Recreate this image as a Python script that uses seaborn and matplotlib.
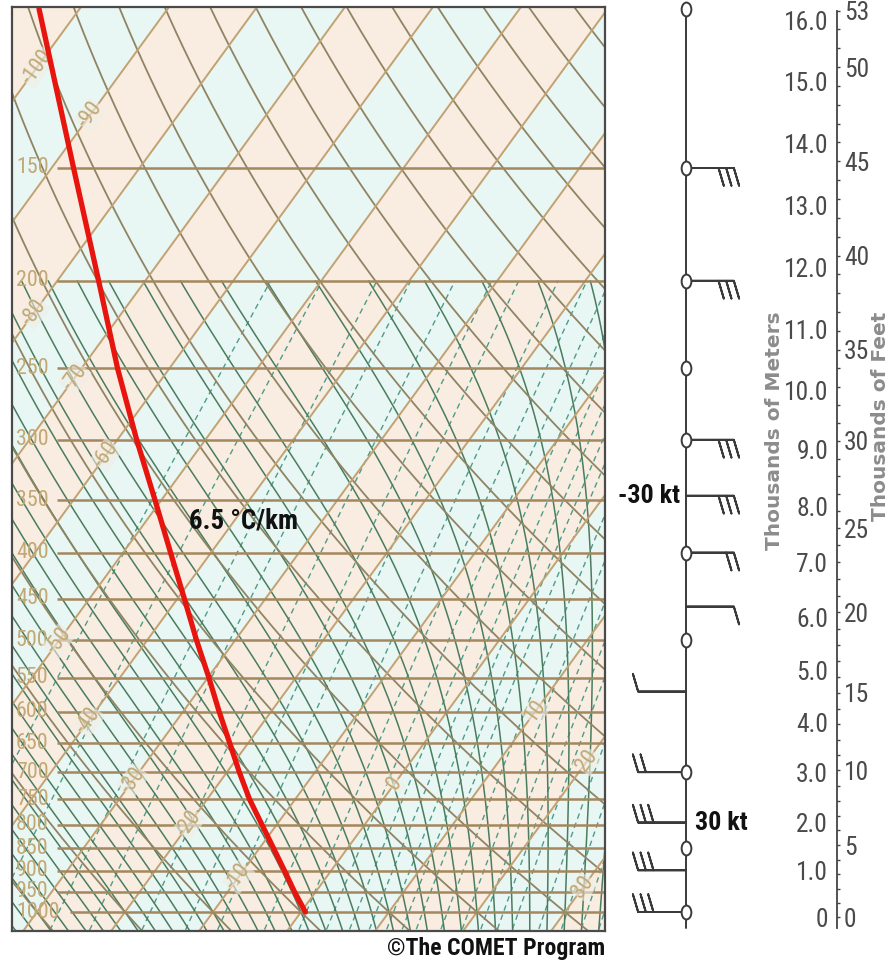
import numpy as np
import matplotlib
matplotlib.use("Agg")
import matplotlib.pyplot as plt
import seaborn as sns
from matplotlib import font_manager
from matplotlib.font_manager import FontProperties
from matplotlib.textpath import TextPath
from matplotlib.path import Path
from matplotlib.transforms import Affine2D
from matplotlib.ticker import FixedLocator, FixedFormatter, NullFormatter

# ---------------- data ----------------
isobar_levels = [150, 200, 250, 300, 350, 400, 450, 500, 550, 600, 650,
                 700, 750, 800, 850, 900, 950, 1000]
isotherm_label_temps = [-100, -90, -80, -70, -60, -50, -40, -30, -20, -10, 0, 10, 20, 30]
isotherm_label_levels = [116, 131, 217, 256, 312, 501, 614, 715, 798, 915, 721, 599, 680, 938]

profile_pressure = [100, 150, 200, 250, 300, 350, 400, 450, 500, 550, 600,
                    650, 700, 750, 800, 850, 900, 950, 1000]
profile_temperature = [-104.6, -87.5, -75.3, -65.9, -57.8, -50.7, -44.6, -39.2,
                       -34.4, -29.9, -25.9, -22.1, -18.6, -15.2, -11.7, -8.4,
                       -5.3, -2.4, 0.5]

wind_pressure = [150, 200, 300, 346, 400, 459, 570, 700, 796, 899, 1000]
wind_u_kt = [-30, -30, -30, -30, -20, -10, 10, 20, 30, 30, 30]
station_pressure = [100, 150, 200, 250, 300, 400, 500, 700, 850, 1000]

height_km = list(range(0, 17))
height_kft_labels = [0, 5, 10, 15, 20, 25, 30, 35, 40, 45, 50, 53]

isotherm_values = list(range(-110, 50, 10))
dry_theta_c = list(range(-40, 200, 10))
moist_theta_w = list(range(-40, 46, 2))
mixing_ratios = [0.1, 0.2, 0.4, 0.6, 1, 1.5, 2, 3, 4, 5, 6, 7, 8, 9, 10,
                 12, 14, 16, 18, 20, 24, 28, 32, 36]

# ---------------- diagram geometry ----------------
SKEW = 32.5                  # skew of the isotherms (deg C per ln-pressure unit)
X_LIM = (-32.84, 34.55)
P_BOTTOM, P_TOP = 1049.6, 99.5
W, H = 892, 967

sns.set_style("white")


def pick_font():
    entries = font_manager.fontManager.ttflist
    for name in ("Liberation Sans Narrow", "Roboto Condensed", "Open Sans Condensed",
                 "Noto Sans Condensed"):
        if any(f.name == name for f in entries):
            return name, "normal"
    for name in ("Noto Sans", "Roboto", "Open Sans", "Liberation Sans"):
        for f in entries:
            if f.name == name and str(f.stretch) in ("condensed", "semi-condensed",
                                                       "extra-condensed"):
                return name, str(f.stretch)
    return "Liberation Sans", "normal"


FAMILY, STRETCH = pick_font()
plt.rcParams["font.family"] = [FAMILY, "DejaVu Sans"]
plt.rcParams["font.stretch"] = STRETCH


def fit_size(text, width_px, weight="normal", cap=None):
    fp = FontProperties(family=FAMILY, stretch=STRETCH, weight=weight)
    w = TextPath((0, 0), text, size=10, prop=fp).get_extents().width / 10.0
    size = width_px * 0.72 / w
    return min(size, cap) if cap else size


FS_AXIS = fit_size("500", 36, cap=15.8)
FS_ISO = fit_size("-100", 42, cap=15.8)
FS_HEIGHT = fit_size("16.0", 41, cap=19)
FS_NOTE = fit_size("6.5 °C/km", 106, weight="bold", cap=21)
FS_KT = fit_size("-30 kt", 60, weight="bold", cap=21)
FS_COPY = fit_size("©The COMET Program", 216, weight="bold", cap=19)

PEACH, CYAN = "#F9ECE1", "#E8F6F4"
TAN_T = "#C2A272"
TAN_D = "#8F8463"
ISOBAR = "#A3875E"
MOIST = "#4A7C5E"
MIXR = "#4E9C88"
LABEL_TAN = "#C2A874"


def skew_x(t, p):
    return np.asarray(t, float) + SKEW * np.log(1000.0 / np.asarray(p, float))


def px_box(l, t, r, b):
    return [l / W, 1 - b / H, (r - l) / W, (b - t) / H]


def std_pressure(z_m):
    z = np.asarray(z_m, float)
    lower = 1013.25 * np.clip(1 - 2.25577e-5 * z, 1e-6, None) ** 5.25588
    upper = 226.32 * np.exp(-(z - 11000.0) / 6341.62)
    return np.where(z <= 11000, lower, upper)


def moist_adiabats(theta_w, p_top=200.0, p_bottom=1100.0, dp=5.0):
    t0 = np.asarray(theta_w, float) + 273.15

    def rate(t, p):
        tc = t - 273.15
        es = 6.112 * np.exp(17.67 * tc / (tc + 243.5))
        rs = 0.622 * es / (p - es)
        return (287.04 * t + 2.501e6 * rs) / (
            p * (1005.7 + 2.501e6 ** 2 * rs * 0.622 / (287.04 * t * t)))

    def integrate(p_end):
        n = int(abs(p_end - 1000.0) / dp)
        ps = np.linspace(1000.0, p_end, n + 1)
        h = ps[1] - ps[0]
        t = t0.copy()
        out = [t.copy()]
        for p in ps[:-1]:
            k1 = rate(t, p)
            k2 = rate(t + h * k1 / 2, p + h / 2)
            k3 = rate(t + h * k2 / 2, p + h / 2)
            k4 = rate(t + h * k3, p + h)
            t = t + h * (k1 + 2 * k2 + 2 * k3 + k4) / 6
            out.append(t.copy())
        return ps, np.array(out)

    pu, tu = integrate(p_top)
    pd, td = integrate(p_bottom)
    p = np.concatenate([pd[::-1], pu[1:]])
    t = np.concatenate([td[::-1], tu[1:]])
    return p, t - 273.15


fig = plt.figure(figsize=(W / 100, H / 100), dpi=100)
fig.patch.set_facecolor("white")

# ---------------- skew-T panel ----------------
ax = fig.add_axes(px_box(12, 7, 605, 931))
ax.set_yscale("log")
ax.set_xlim(*X_LIM)
ax.set_ylim(P_BOTTOM, P_TOP)
ax.set_xticks([])
ax.set_yticks([])
ax.yaxis.set_minor_locator(FixedLocator([]))
for s in ax.spines.values():
    s.set_color("#4a4a4a")
    s.set_linewidth(1.6)
    s.set_zorder(10)

pb, pt = 1120.0, 90.0
# alternating 10-degree isotherm bands
for t0 in range(-140, 60, 10):
    col = PEACH if (t0 // 10) % 2 else CYAN
    xs = [skew_x(t0, pb), skew_x(t0 + 10, pb), skew_x(t0 + 10, pt), skew_x(t0, pt)]
    ax.fill(xs, [pb, pb, pt, pt], color=col, lw=0, zorder=0)

# mixing ratio lines
p_mr = np.geomspace(1120, 200, 80)
for w in mixing_ratios:
    e = p_mr * w / (622.0 + w)
    a = np.log(e / 6.112)
    td = 243.5 * a / (17.67 - a)
    ax.plot(skew_x(td, p_mr), p_mr, color=MIXR, lw=1.0, ls=(0, (4, 3)), zorder=1)

# moist adiabats
p_ma, t_ma = moist_adiabats(moist_theta_w)
for j in range(t_ma.shape[1]):
    ax.plot(skew_x(t_ma[:, j], p_ma), p_ma, color=MOIST, lw=1.1, zorder=1.5)

# dry adiabats
p_da = np.geomspace(1120, 90, 200)
for th in dry_theta_c:
    t = (th + 273.15) * (p_da / 1000.0) ** 0.2857 - 273.15
    ax.plot(skew_x(t, p_da), p_da, color=TAN_D, lw=1.3, zorder=2)

# isotherms
for tv in isotherm_values:
    ax.plot([skew_x(tv, pb), skew_x(tv, pt)], [pb, pt], color=TAN_T, lw=1.4, zorder=2)

# isobars with their labels at the left edge
for p in isobar_levels:
    start = 0.0978 if p >= 1000 else 0.0759
    ax.hlines(p, start, 1.0, transform=ax.get_yaxis_transform(), color=ISOBAR,
              lw=1.8, zorder=2.5)
    ax.text(0.0067, p, f"{p}", transform=ax.get_yaxis_transform(), ha="left",
            va="center", fontsize=FS_AXIS, color=LABEL_TAN, zorder=3)

# isotherm labels
for tv, pl in zip(isotherm_label_temps, isotherm_label_levels):
    ax.text(skew_x(tv, pl), pl, f"{tv}", rotation=54, rotation_mode="anchor",
            ha="center", va="center", fontsize=FS_ISO, color=LABEL_TAN, zorder=3,
            bbox=dict(boxstyle="square,pad=0.02", fc="#F2EFE7", ec="none", alpha=0.6))

# environmental temperature profile
sns.lineplot(x=skew_x(profile_temperature, profile_pressure), y=profile_pressure,
             sort=False, estimator=None, color="#E8140E", linewidth=3.8, ax=ax,
             zorder=5)
ax.set_xlabel("")
ax.set_ylabel("")
ax.text(0.391, 0.4437, "6.5 °C/km", transform=ax.transAxes, ha="center",
        va="center", fontsize=FS_NOTE, fontweight="bold", color="#111111", zorder=6)

# ---------------- wind column ----------------
axw = fig.add_axes(px_box(610, 7, 762, 931))
axw.set_yscale("log")
axw.set_xlim(-1, 1)
axw.set_ylim(P_BOTTOM, P_TOP)
axw.axis("off")
axw.plot([0, 0], [P_TOP, 1041.0], color="#3a3a3a", lw=1.4, zorder=1)
n = len(wind_pressure)
axw.barbs(np.zeros(n), wind_pressure, wind_u_kt, np.zeros(n), length=8.3,
          sizes=dict(spacing=0.16, height=0.37, width=0.22, emptybarb=0.0),
          linewidth=1.4, color="#3a3a3a", zorder=2)
ellipse = Path.unit_circle().transformed(Affine2D().scale(0.7, 1.0))
axw.plot(np.zeros(len(station_pressure)), station_pressure, ls="none",
         marker=ellipse, ms=10, mfc="white", mec="#3a3a3a", mew=1.4, zorder=3,
         clip_on=False)
axw.annotate("-30 kt", (0, wind_pressure[3]), xytext=(-4.5, 0),
             textcoords="offset points", ha="right", va="center", fontsize=FS_KT,
             fontweight="bold", color="#111111")
axw.annotate("30 kt", (0, wind_pressure[8]), xytext=(6.5, 0),
             textcoords="offset points", ha="left", va="center", fontsize=FS_KT,
             fontweight="bold", color="#111111")

# ---------------- height scales ----------------
axh = fig.add_axes(px_box(837, 7, 837.3, 931))
axh.set_yscale("log")
axh.set_ylim(P_BOTTOM, P_TOP)
axh.patch.set_visible(False)
axh.xaxis.set_visible(False)
for k in ["top", "bottom", "right"]:
    axh.spines[k].set_visible(False)
axh.spines["left"].set_color("#444444")
axh.spines["left"].set_linewidth(1.3)
axh.spines["left"].set_bounds(1041.0, float(std_pressure(53 * 304.8)))
km = np.array(height_km, float)
axh.yaxis.set_major_locator(FixedLocator(std_pressure(km * 1000)))
axh.yaxis.set_major_formatter(FixedFormatter(["0"] + [f"{k:.1f}" for k in km[1:]]))
axh.yaxis.set_minor_locator(FixedLocator(std_pressure((km[:-1] + 0.5) * 1000)))
axh.yaxis.set_minor_formatter(NullFormatter())
axh.tick_params(axis="y", which="major", length=3.6, width=1.1, color="#444444",
                pad=2.8, labelsize=FS_HEIGHT, labelcolor="#4a4a4a")
axh.tick_params(axis="y", which="minor", length=2.2, width=1.0, color="#444444")

axf = fig.add_axes(px_box(837, 7, 837.3, 931))
axf.set_yscale("log")
axf.set_ylim(P_BOTTOM, P_TOP)
axf.patch.set_visible(False)
axf.xaxis.set_visible(False)
for s in axf.spines.values():
    s.set_visible(False)
axf.yaxis.tick_right()
kft = np.array(height_kft_labels, float)
axf.yaxis.set_major_locator(FixedLocator(std_pressure(kft * 304.8)))
axf.yaxis.set_major_formatter(FixedFormatter([f"{int(v)}" for v in kft]))
minor_kft = np.array([v for v in range(0, 54) if v not in height_kft_labels], float)
axf.yaxis.set_minor_locator(FixedLocator(std_pressure(minor_kft * 304.8)))
axf.yaxis.set_minor_formatter(NullFormatter())
axf.tick_params(axis="y", which="both", length=2.4, width=1.0, color="#444444",
                pad=2.5, labelsize=FS_HEIGHT, labelcolor="#4a4a4a")

fig.text(775 / W, 1 - 431 / H, "Thousands of Meters", rotation=90, ha="center",
         va="center", fontsize=14.5, fontweight="bold", color="#8c8c8c",
         family="DejaVu Sans")
fig.text(881 / W, 1 - 416 / H, "Thousands of Feet", rotation=90, ha="center",
         va="center", fontsize=14.5, fontweight="bold", color="#8c8c8c",
         family="DejaVu Sans")

fig.text(605 / W, 1 - 949 / H, "©The COMET Program", ha="right", va="center",
         fontsize=FS_COPY, fontweight="bold", color="#111111")

fig.savefig("out.png", dpi=100, facecolor="white")
